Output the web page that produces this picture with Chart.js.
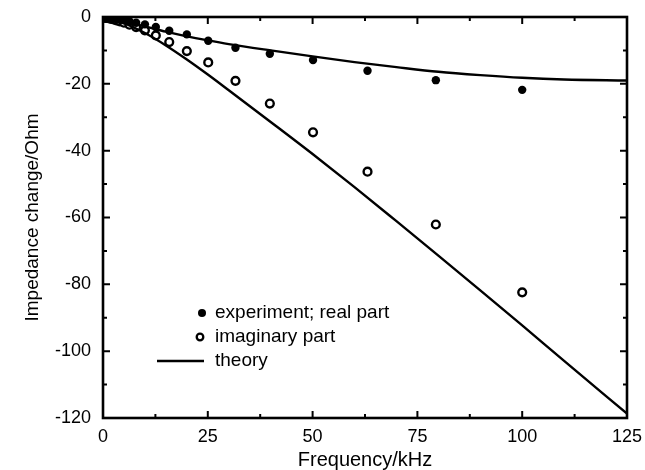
<!DOCTYPE html>
<html lang="en">
  <head>
    <meta charset="UTF-8" />
    <title>Impedance change vs frequency</title>
    <script src="https://cdn.jsdelivr.net/npm/chart.js"></script>
    <style>
      html, body { margin: 0; padding: 0; background: #fff; }
      #wrap { width: 645px; height: 470px; }
    </style>
  </head>
  <body>
    <div id="wrap"><canvas id="impChart"></canvas></div>
    <script>
      // measured points (kHz, Ohm)
      const freq = [0.25, 0.32, 0.4, 0.5, 0.63, 0.79, 1, 1.26, 1.6, 2, 2.5, 3.2, 4, 5, 6.3, 7.9, 10, 12.6, 15.8, 20, 25.1, 31.6, 39.8, 50.1, 63.1, 79.4, 100];
      const realPart = [-0.02, -0.03, -0.04, -0.05, -0.08, -0.1, -0.15, -0.2, -0.27, -0.35, -0.45, -0.6, -0.8, -1.0, -1.3, -1.7, -2.2, -3.0, -4.1, -5.2, -7.1, -9.2, -11.0, -12.9, -16.1, -18.9, -21.8];
      const imagPart = [-0.06, -0.08, -0.1, -0.13, -0.17, -0.22, -0.28, -0.35, -0.45, -0.6, -0.75, -1.0, -1.3, -1.7, -2.3, -3.0, -4.0, -5.5, -7.5, -10.2, -13.6, -19.1, -25.9, -34.5, -46.3, -62.1, -82.4];

      // theory curves
      const theoryFreq = [0, 5, 10, 15, 20, 25, 30, 40, 50, 60, 70, 80, 90, 100, 110, 125];
      const theoryReal = [0, -1.3, -2.8, -4.4, -5.8, -7.0, -8.1, -10.0, -11.8, -13.5, -15.0, -16.4, -17.4, -18.2, -18.7, -19.0];
      const theoryImag = [0, -1.8, -4.8, -8.5, -12.7, -17.2, -21.9, -31.4, -41.0, -50.9, -61.1, -71.4, -81.8, -92.3, -102.9, -118.7];

      const xTicks = [0, 25, 50, 75, 100, 125];
      const yTicks = [0, -20, -40, -60, -80, -100, -120];
      const legendLabels = ["experiment; real part", "imaginary part", "theory"];

      const font = "'Liberation Sans', Arial, Helvetica, sans-serif";

      function pts(xs, ys) {
        return xs.map((f, i) => ({ x: f, y: ys[i] }));
      }

      // frame with inward major + minor ticks on all four sides
      const frameTicks = {
        id: "frameTicks",
        afterDraw(chart) {
          const { ctx, chartArea: a, scales } = chart;
          const x = scales.x, y = scales.y;
          ctx.save();
          ctx.strokeStyle = "#000";
          ctx.lineCap = "butt";
          ctx.lineWidth = 2;
          for (let v = 0; v <= 125; v += 12.5) {
            const px = x.getPixelForValue(v);
            const len = v % 25 === 0 ? 7 : 4;
            ctx.beginPath();
            ctx.moveTo(px, a.bottom); ctx.lineTo(px, a.bottom - len);
            ctx.moveTo(px, a.top); ctx.lineTo(px, a.top + len);
            ctx.stroke();
          }
          for (let v = 0; v >= -120; v -= 10) {
            const py = y.getPixelForValue(v);
            const len = v % 20 === 0 ? 7 : 4;
            ctx.beginPath();
            ctx.moveTo(a.left, py); ctx.lineTo(a.left + len, py);
            ctx.moveTo(a.right, py); ctx.lineTo(a.right - len, py);
            ctx.stroke();
          }
          ctx.lineWidth = 2.6;
          ctx.strokeRect(a.left, a.top, a.right - a.left, a.bottom - a.top);
          ctx.restore();
        },
      };

      // legend drawn inside the plot area, like the original
      const innerLegend = {
        id: "innerLegend",
        afterDraw(chart) {
          const { ctx, chartArea: a } = chart;
          const lx = a.left + 99, tx = a.left + 112;
          const rows = [a.top + 296, a.top + 320, a.top + 344];
          ctx.save();
          ctx.fillStyle = "#000";
          ctx.strokeStyle = "#000";
          // filled dot
          ctx.beginPath(); ctx.arc(lx, rows[0], 4, 0, Math.PI * 2); ctx.fill();
          // open dot
          ctx.lineWidth = 2.3;
          ctx.beginPath(); ctx.arc(lx - 2, rows[1], 3.3, 0, Math.PI * 2); ctx.stroke();
          // line
          ctx.lineWidth = 2.4;
          ctx.beginPath(); ctx.moveTo(a.left + 54, rows[2]); ctx.lineTo(a.left + 101, rows[2]); ctx.stroke();
          ctx.font = "19px " + font;
          ctx.textBaseline = "middle";
          legendLabels.forEach((t, i) => ctx.fillText(t, tx, rows[i]));
          ctx.restore();
        },
      };

      new Chart(document.getElementById("impChart"), {
        type: "scatter",
        data: {
          datasets: [
            {
              label: legendLabels[2] + " (real)",
              data: pts(theoryFreq, theoryReal),
              showLine: true,
              borderColor: "#000",
              borderWidth: 2.4,
              pointRadius: 0,
              cubicInterpolationMode: "monotone",
            },
            {
              label: legendLabels[2] + " (imaginary)",
              data: pts(theoryFreq, theoryImag),
              showLine: true,
              borderColor: "#000",
              borderWidth: 2.4,
              pointRadius: 0,
              cubicInterpolationMode: "monotone",
            },
            {
              label: legendLabels[0],
              data: pts(freq, realPart),
              pointRadius: 4.2,
              pointBackgroundColor: "#000",
              pointBorderColor: "#000",
              pointBorderWidth: 0,
            },
            {
              label: legendLabels[1],
              data: pts(freq, imagPart),
              pointRadius: 3.9,
              pointBackgroundColor: "#fff",
              pointBorderColor: "#000",
              pointBorderWidth: 2.4,
            },
          ],
        },
        options: {
          responsive: true,
          maintainAspectRatio: false,
          animation: false,
          layout: { padding: { top: 17, right: 18, left: 0, bottom: 0 } },
          plugins: { legend: { display: false }, tooltip: { enabled: false } },
          scales: {
            x: {
              type: "linear",
              min: 0,
              max: 125,
              afterBuildTicks: (s) => { s.ticks = xTicks.map((v) => ({ value: v })); },
              afterFit: (s) => { s.height = 52; s.paddingLeft = 0; s.paddingRight = 0; },
              grid: { display: false, drawTicks: false },
              border: { display: false },
              ticks: { color: "#000", padding: 8, font: { family: font, size: 18 }, maxRotation: 0 },
              title: {
                display: true,
                text: "Frequency/kHz",
                color: "#000",
                padding: { top: 0, bottom: -2 },
                font: { family: font, size: 20 },
              },
            },
            y: {
              min: -120,
              max: 0,
              afterBuildTicks: (s) => { s.ticks = yTicks.map((v) => ({ value: v })); },
              afterFit: (s) => { s.width = 103; s.paddingTop = 0; s.paddingBottom = 0; },
              grid: { display: false, drawTicks: false },
              border: { display: false },
              ticks: { color: "#000", padding: 12, font: { family: font, size: 18 } },
              title: {
                display: true,
                text: "Impedance change/Ohm",
                color: "#000",
                padding: { top: 21, bottom: 0 },
                font: { family: font, size: 19 },
              },
            },
          },
        },
        plugins: [frameTicks, innerLegend],
      });
    </script>
  </body>
</html>
